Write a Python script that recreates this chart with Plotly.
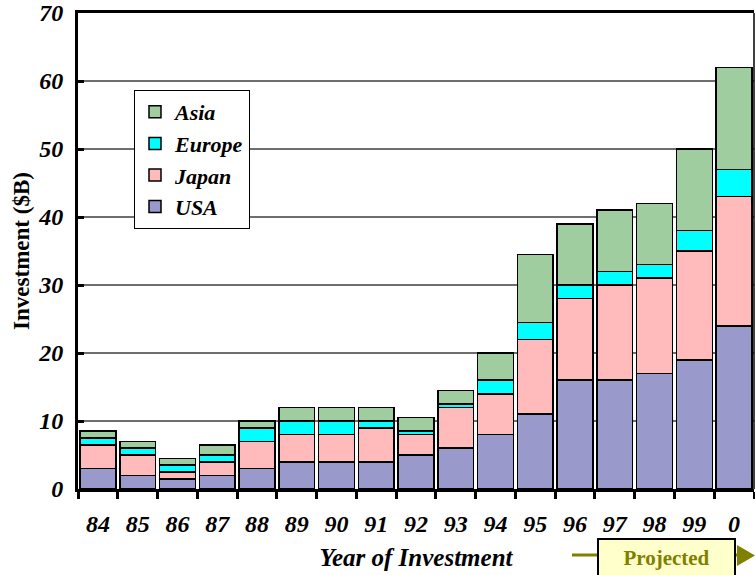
import plotly.graph_objects as go

# Foreign investment by source region, in billions of dollars
years = ["84", "85", "86", "87", "88", "89", "90", "91", "92", "93",
         "94", "95", "96", "97", "98", "99", "0"]
usa = [3, 2, 1.5, 2, 3, 4, 4, 4, 5, 6, 8, 11, 16, 16, 17, 19, 24]
japan = [3.5, 3, 1, 2, 4, 4, 4, 5, 3, 6, 6, 11, 12, 14, 14, 16, 19]
europe = [1, 1, 1, 1, 2, 2, 2, 1, 0.5, 0.5, 2, 2.5, 2, 2, 2, 3, 4]
asia = [1, 1, 1, 1.5, 1, 2, 2, 2, 2, 2, 4, 10, 9, 9, 9, 12, 15]

series = [
    ("USA", usa, "#9999CC"),
    ("Japan", japan, "#FFBBBB"),
    ("Europe", europe, "#00FFFF"),
    ("Asia", asia, "#9FCD9F"),
]

SERIF = "Liberation Serif"

fig = go.Figure()
for name, vals, col in series:
    fig.add_trace(go.Bar(
        x=years, y=vals, name=name,
        marker=dict(color=col, line=dict(color="black", width=1.5)),
    ))

W, H = 755, 575
L, R, T, B = 78, 1, 13, 86
pw, ph = W - L - R, H - T - B


def px(x):
    return (x - L) / pw


def py(y):
    return (H - B - y) / ph


olive = "#808000"
shapes = [
    # thin right border
    dict(type="line", xref="paper", yref="paper", x0=1, x1=1, y0=0, y1=1,
         line=dict(color="black", width=1.5)),
    # "projected" arrow shaft
    dict(type="line", xref="paper", yref="paper", x0=px(572), x1=px(740),
         y0=py(555), y1=py(555), line=dict(color=olive, width=3)),
    # arrow head
    dict(type="path", xref="paper", yref="paper",
         path=f"M {px(737)} {py(545)} L {px(737)} {py(566)} L {px(755)} {py(555.5)} Z",
         fillcolor=olive, line=dict(color=olive, width=0)),
]

fig.update_layout(
    width=W, height=H,
    margin=dict(l=L, r=R, t=T, b=B),
    barmode="stack", bargap=0.1,
    plot_bgcolor="white", paper_bgcolor="white",
    font=dict(family=SERIF, color="black"),
    showlegend=True,
    legend=dict(
        x=px(134), y=py(90), xanchor="left", yanchor="top",
        traceorder="reversed",
        bgcolor="white", bordercolor="black", borderwidth=1,
        font=dict(family=SERIF, size=22, weight="bold", style="italic"),
        itemwidth=30,
    ),
    xaxis=dict(
        type="category", showline=True, linecolor="black", linewidth=3,
        mirror=True, ticks="outside", tickson="boundaries", ticklen=7,
        tickwidth=3, tickcolor="black",
        tickfont=dict(family=SERIF, size=24, weight="bold", style="italic"),
        ticklabelstandoff=11,
        title=dict(text="Year of Investment", standoff=13,
                   font=dict(family=SERIF, size=25, weight="bold", style="italic")),
        showgrid=False, range=[-0.5, 16.5],
    ),
    yaxis=dict(
        range=[0, 70], dtick=10, showline=True, linecolor="black", linewidth=3,
        ticks="inside", ticklen=6, tickwidth=3, tickcolor="black",
        showgrid=True, gridcolor="#6E6E6E", gridwidth=1.5,
        tickfont=dict(family=SERIF, size=24, weight="bold", style="italic"),
        ticklabelstandoff=7,
        title=dict(text="Investment ($B)", standoff=3,
                   font=dict(family=SERIF, size=23, weight="bold")),
        zeroline=False,
    ),
    shapes=shapes,
    annotations=[dict(
        text="Projected", xref="paper", yref="paper",
        x=px(666.5), y=py(538), xanchor="center", yanchor="top",
        showarrow=False, width=135, height=36, borderpad=0,
        bgcolor="#FFFFCC", bordercolor="black", borderwidth=2,
        font=dict(family=SERIF, size=21, weight="bold", color=olive),
    )],
)

fig.write_html("out.html")
